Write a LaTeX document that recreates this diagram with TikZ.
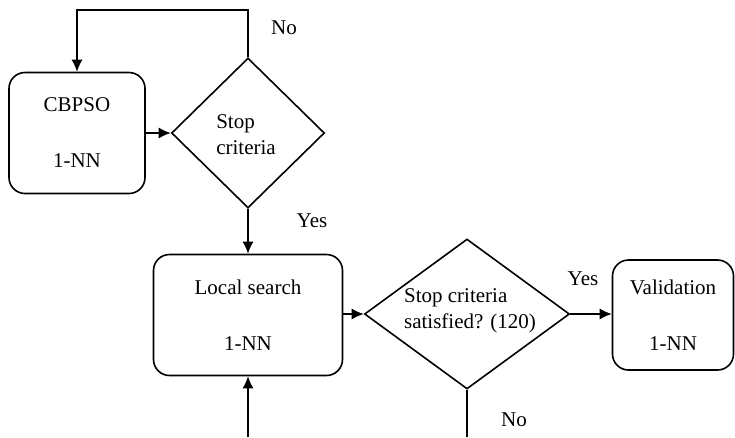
\documentclass[tikz,border=0pt]{standalone}
\usepackage{fontspec}
\setmainfont{Liberation Serif}
\usetikzlibrary{shapes.geometric,arrows.meta}

\tikzset{
	procbox/.style={draw, line width=1.6pt, rounded corners=16pt, align=center,
		inner sep=0pt, font=\fontsize{21}{26}\selectfont},
	decision/.style={draw, diamond, line width=1.6pt, inner sep=0pt},
	decisiontext/.style={align=left, inner sep=0pt,
		font=\fontsize{21}{26}\selectfont},
	flow/.style={line width=1.3pt, -{Latex[length=12pt,width=11pt]}},
	plain/.style={line width=1.3pt},
	answer/.style={font=\fontsize{21}{26}\selectfont}
}

\begin{document}
\begin{tikzpicture}[x=1pt, y=-1pt]
	\useasboundingbox (0,0) rectangle (735,437);
	% Kaesten
	\node[procbox, minimum width=136pt, minimum height=121pt] (cbpso) at (77,133)
		{CBPSO\\[30pt]1-NN};
	\node[procbox, minimum width=189pt, minimum height=121pt] (local) at (248,315)
		{Local search\\[30pt]1-NN};
	\node[procbox, minimum width=121pt, minimum height=110pt] (valid) at (673,315)
		{Validation\\[30pt]1-NN};
	% Entscheidungen
	\node[decision, minimum width=153pt, minimum height=150pt] (stopA) at (248,133) {};
	\node[decisiontext] (stopAtext) at (246,135) {Stop\\criteria};
	\node[decision, minimum width=205pt, minimum height=150pt] (stopB) at (467,314) {};
	\node[decisiontext] (stopBtext) at (470,311) {Stop criteria\\satisfied? (120)};
	% freie Enden unten
	\coordinate (inlet) at (248,437);
	\coordinate (outlet) at (467,437);
	% Verbindungen
	\draw[flow] (cbpso) -- (stopA);
	\draw[flow] (stopA.north) -- (stopA.north |- 0,10) -| (cbpso.north);
	\draw[flow] (stopA) -- (local);
	\draw[flow] (local.east |- stopB) -- (stopB);
	\draw[flow] (stopB) -- (valid.west |- stopB);
	\draw[flow] (inlet) -- (local);
	\draw[plain] (stopB.south) -- (outlet);
	% Beschriftungen
	\node[answer] (noA) at (284,28) {No};
	\node[answer] (yesA) at (312,221) {Yes};
	\node[answer] (yesB) at (583,279) {Yes};
	\node[answer] (noB) at (514,420) {No};
\end{tikzpicture}
\end{document}
